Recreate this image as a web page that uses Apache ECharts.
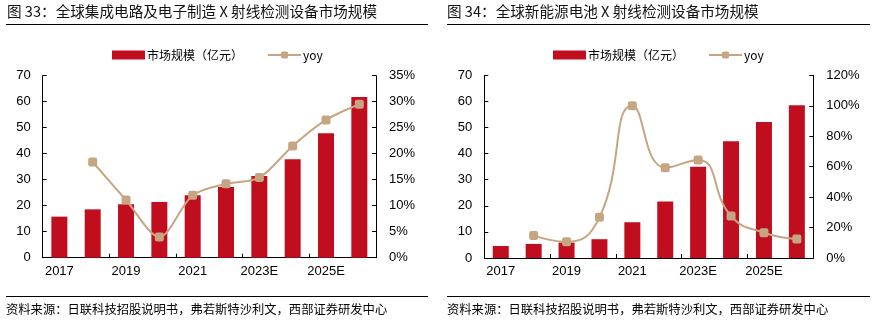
<!DOCTYPE html>
<html>
<head>
<meta charset="utf-8">
<script src="https://cdn.jsdelivr.net/npm/echarts@6/dist/echarts.min.js"></script>
<style>
html,body{margin:0;padding:0;background:#fff;}
#c{width:878px;height:323px;}
</style>
</head>
<body>
<div id="c"></div>
<script>
const categories = ['2017','2018','2019','2020','2021','2022','2023E','2024E','2025E','2026E'];
const marketIC = [15.8, 18.6, 20.6, 21.4, 24.0, 27.2, 31.4, 37.9, 47.9, 61.8];
const yoyIC = [null, 18.4, 11.1, 4.0, 12.0, 14.2, 15.4, 21.5, 26.5, 29.5];
const marketBattery = [4.6, 5.4, 5.9, 7.2, 13.7, 21.6, 35.0, 44.7, 52.1, 58.5];
const yoyBattery = [null, 14.7, 10.7, 26.7, 100.0, 59.3, 64.4, 27.6, 16.6, 12.5];
const title1 = '图 33：全球集成电路及电子制造 X 射线检测设备市场规模';
const title2 = '图 34：全球新能源电池 X 射线检测设备市场规模';
const sourceText = '资料来源：日联科技招股说明书，弗若斯特沙利文，西部证券研发中心';
const barName = '市场规模（亿元）';
const lineName = 'yoy';

const BAR = '#C10E1F';
const LINE = '#C6A682';
const CJK = '"Noto Sans CJK SC", sans-serif';
const LAT = '"Liberation Sans", Arial, sans-serif';

const chart = echarts.init(document.getElementById('c'), null, {renderer: 'canvas'});

function xAxis(gi) {
  return {
    type: 'category', gridIndex: gi, data: categories,
    axisLine: {lineStyle: {color: '#000', width: 1}},
    axisTick: {show: true, inside: true, length: 4, lineStyle: {color: '#000'}},
    axisLabel: {interval: 1, color: '#000', fontSize: 13, fontFamily: LAT, margin: 7}
  };
}
function yLeft(gi) {
  return {
    type: 'value', gridIndex: gi, min: 0, max: 70, interval: 10,
    axisLine: {show: true, lineStyle: {color: '#000'}},
    axisTick: {show: true, inside: true, length: 4, lineStyle: {color: '#000'}},
    splitLine: {show: false},
    axisLabel: {color: '#000', fontSize: 13, fontFamily: LAT, margin: 12}
  };
}
function yRight(gi, max, interval) {
  return {
    type: 'value', gridIndex: gi, position: 'right', min: 0, max: max, interval: interval,
    axisLine: {show: true, lineStyle: {color: '#000'}},
    axisTick: {show: true, inside: true, length: 4, lineStyle: {color: '#000'}},
    splitLine: {show: false},
    axisLabel: {color: '#000', fontSize: 13, fontFamily: LAT, margin: 13, formatter: '{value}%'}
  };
}
function legend(left) {
  return {
    left: left, top: 49, itemWidth: 33, itemHeight: 9, itemGap: 24,
    padding: 0,
    data: [
      {name: barName, icon: 'rect'},
      {name: lineName}
    ],
    textStyle: {color: '#000', fontSize: 12, fontFamily: CJK, padding: [0, 0, 0, -3]}
  };
}
function barSeries(xi, yi, data) {
  return {name: barName, type: 'bar', xAxisIndex: xi, yAxisIndex: yi, data: data,
    barWidth: 16, itemStyle: {color: BAR}, z: 2};
}
function lineSeries(xi, yi, data, smooth) {
  return {name: lineName, type: 'line', xAxisIndex: xi, yAxisIndex: yi, data: data,
    smooth: smooth, symbol: 'roundRect', symbolSize: 9, showAllSymbol: true,
    lineStyle: {color: LINE, width: 2}, itemStyle: {color: LINE}, z: 3};
}

const option = {
  animation: false,
  backgroundColor: '#fff',
  title: [
    {text: title1, left: 7, top: 4, padding: 0, textStyle: {fontSize: 14.6, fontWeight: 'normal', color: '#111', fontFamily: CJK}},
    {text: title2, left: 447, top: 4, padding: 0, textStyle: {fontSize: 14.6, fontWeight: 'normal', color: '#111', fontFamily: CJK}},
    {text: sourceText, left: 6, top: 303, padding: 0, textStyle: {fontSize: 12.3, fontWeight: 'normal', color: '#000', fontFamily: CJK}},
    {text: sourceText, left: 447, top: 303, padding: 0, textStyle: {fontSize: 12.3, fontWeight: 'normal', color: '#000', fontFamily: CJK}}
  ],
  graphic: [
    {type: 'line', shape: {x1: 6, y1: 24.5, x2: 428, y2: 24.5}, style: {stroke: '#000', lineWidth: 1}},
    {type: 'line', shape: {x1: 447, y1: 24.5, x2: 870, y2: 24.5}, style: {stroke: '#000', lineWidth: 1}},
    {type: 'line', shape: {x1: 6, y1: 296.5, x2: 428, y2: 296.5}, style: {stroke: '#000', lineWidth: 1}},
    {type: 'line', shape: {x1: 447, y1: 296.5, x2: 870, y2: 296.5}, style: {stroke: '#000', lineWidth: 1}}
  ],
  legend: [legend(112), legend(553)],
  grid: [
    {left: 42.7, right: 502, top: 75.7, bottom: 65.3},
    {left: 484.3, right: 64.7, top: 75.3, bottom: 65}
  ],
  xAxis: [xAxis(0), xAxis(1)],
  yAxis: [yLeft(0), yRight(0, 35, 5), yLeft(1), yRight(1, 120, 20)],
  series: [
    barSeries(0, 0, marketIC),
    lineSeries(0, 1, yoyIC, 0.3),
    barSeries(1, 2, marketBattery),
    lineSeries(1, 3, yoyBattery, 0.5)
  ]
};
chart.setOption(option);
</script>
</body>
</html>
